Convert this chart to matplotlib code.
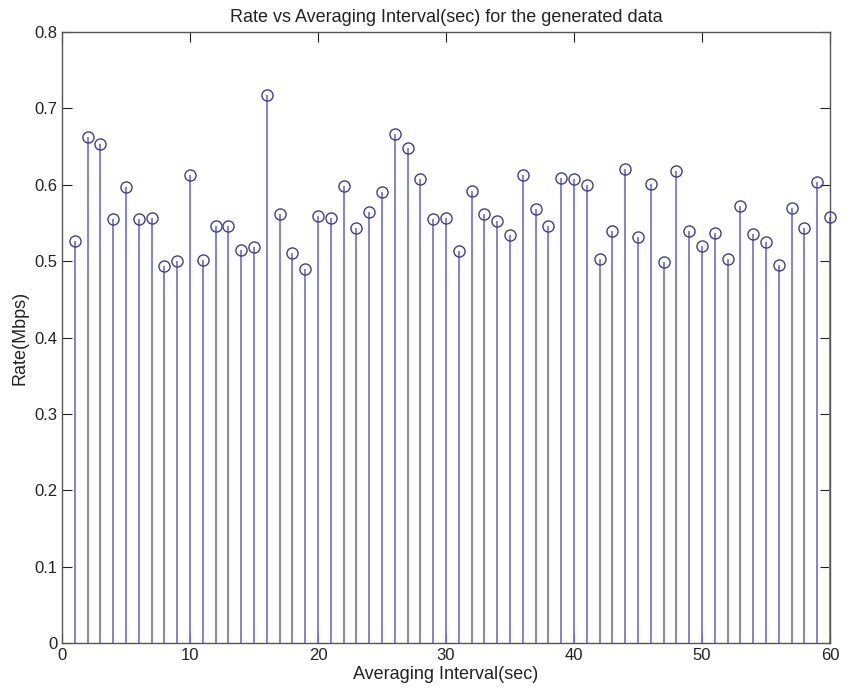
import matplotlib
matplotlib.use("Agg")
import matplotlib.pyplot as plt

intervals = list(range(1, 61))
rates = [0.527, 0.662, 0.654, 0.555, 0.597, 0.555, 0.557, 0.494, 0.500, 0.613,
         0.502, 0.546, 0.546, 0.515, 0.518, 0.718, 0.562, 0.510, 0.490, 0.559,
         0.557, 0.599, 0.544, 0.564, 0.591, 0.666, 0.648, 0.607, 0.555, 0.556,
         0.513, 0.592, 0.562, 0.552, 0.534, 0.613, 0.568, 0.546, 0.609, 0.607,
         0.600, 0.503, 0.540, 0.621, 0.532, 0.601, 0.499, 0.618, 0.539, 0.520,
         0.537, 0.503, 0.572, 0.535, 0.525, 0.495, 0.570, 0.544, 0.603, 0.558]
xticks = [0, 10, 20, 30, 40, 50, 60]
yticks = [0, 0.1, 0.2, 0.3, 0.4, 0.5, 0.6, 0.7, 0.8]
ytick_labels = ["0", "0.1", "0.2", "0.3", "0.4", "0.5", "0.6", "0.7", "0.8"]

plt.rcParams['font.family'] = ['Liberation Sans', 'DejaVu Sans']

fig = plt.figure(figsize=(8.5, 6.98), dpi=100)
ax = fig.add_axes([62/850, 1-643/698, (830-62)/850, (643-32)/698])

line_col = '#7878cc'
mk_col = '#404088'
ml, sl, bl = ax.stem(intervals, rates, basefmt=' ')
plt.setp(sl, color=line_col, linewidth=1.3)
plt.setp(ml, marker='o', markersize=8, markerfacecolor='none',
         markeredgecolor=mk_col, markeredgewidth=1.0)
ml.set_clip_on(False)
ml.set_zorder(3)

ax.set_xlim(0, 60)
ax.set_ylim(0, 0.8)
ax.set_xticks(xticks)
ax.set_yticks(yticks)
ax.set_yticklabels(ytick_labels)
ax.tick_params(direction='in', top=True, right=True, length=7,
               labelsize=12, colors='#222222', width=0.8)
for s in ax.spines.values():
    s.set_color('#555555')
    s.set_linewidth(1.0)

ax.set_title("Rate vs Averaging Interval(sec) for the generated data",
             fontsize=13, pad=7, color='#222222')
ax.set_xlabel("Averaging Interval(sec)", fontsize=13, labelpad=2, color='#222222')
ax.set_ylabel("Rate(Mbps)", fontsize=13, labelpad=4, color='#222222')

fig.savefig("out.png", dpi=100)
